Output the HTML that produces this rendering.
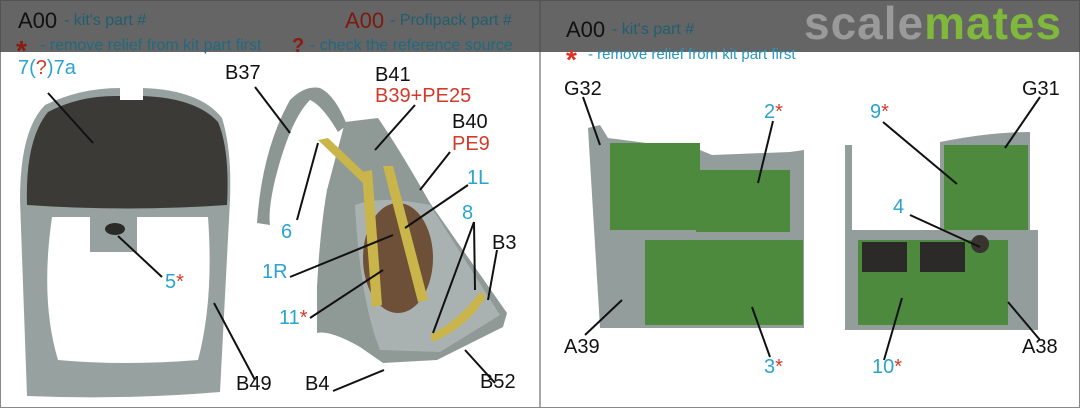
<!DOCTYPE html>
<html><head><meta charset="utf-8"><style>
html,body{margin:0;padding:0;background:#fff;}
#c{position:relative;width:1080px;height:408px;overflow:hidden;font-family:"Liberation Sans",sans-serif;}
.t{position:absolute;white-space:nowrap;line-height:1;}
.k{color:#111;font-size:20px;}
.b{color:#2aa3cf;font-size:20px;}
.r{color:#d23a2a;font-size:20px;}
.s{color:#d23a2a;}
.h{color:#2a95c0;font-size:16px;}
</style></head><body><div id="c">
<svg width="1080" height="408" style="position:absolute;left:0;top:0">
<rect x="0.5" y="0.5" width="1079" height="407" fill="#fff" stroke="#888"/>
<line x1="540" y1="0" x2="540" y2="408" stroke="#888" stroke-width="1.5"/>
<!-- instrument panel frame -->
<path d="M20,200 Q20,130 45,105 Q80,88 120,88 L143,88 Q200,90 222,118 Q232,150 230,200 L220,392 Q125,400 27,396 Z M52,217 L90,217 L90,252 L137,252 L137,217 L208,217 Q214,300 198,360 Q125,366 58,360 Q40,300 52,217 Z" fill="#97a2a0" fill-rule="evenodd"/>
<path d="M27,205 Q25,140 48,112 Q80,95 120,96 L120,100 L143,100 L143,96 Q196,98 218,122 Q230,150 227,205 Q128,212 27,205 Z" fill="#3b3a37"/>
<path d="M120,88 L143,88 L143,100 L120,100 Z" fill="#fff"/>
<ellipse cx="115" cy="229" rx="10" ry="6" fill="#2a2a28"/>
<!-- seat -->
<path d="M257,223 Q262,150 290,100 Q305,85 320,88 Q335,95 347,125 L338,132 Q322,105 310,100 Q290,120 275,180 Q268,210 270,225 Z" fill="#8c9794"/>
<path d="M345,122 L378,118 Q400,150 430,203 L507,313 L503,327 L437,360 L383,363 L360,347 Q330,330 317,333 L317,287 Q320,230 327,190 Z" fill="#8f9a97"/>
<path d="M355,205 Q380,195 430,205 L500,315 L440,352 L380,350 Q360,300 355,205 Z" fill="#a9b2b0"/>
<ellipse cx="398" cy="258" rx="35" ry="55" fill="#6e4f38"/>
<path d="M362,172 L372,170 L382,305 L372,307 Z M383,166 L393,166 L428,300 L418,302 Z" fill="#c9b54a"/>
<path d="M318,140 L328,138 L372,180 L364,184 Z" fill="#c9b54a"/>
<path d="M430,335 Q460,320 480,292 L486,296 Q470,325 433,342 Z" fill="#c9b54a"/>
<!-- right panels -->
<path d="M588,128 L600,125 L608,138 L700,150 L712,155 L790,152 L804,150 L804,328 L600,328 Z" fill="#939d9b"/>
<rect x="610" y="143" width="90" height="87" fill="#4d8a3e"/>
<rect x="696" y="170" width="94" height="62" fill="#4d8a3e"/>
<rect x="645" y="240" width="158" height="85" fill="#4d8a3e"/>
<path d="M845,230 L1038,230 L1038,330 L845,330 Z M845,145 L852,145 L852,230 L845,230 Z M940,142 Q990,132 1030,132 L1030,230 L940,230 Z" fill="#939d9b"/>
<rect x="944" y="145" width="84" height="85" fill="#4d8a3e"/>
<rect x="858" y="240" width="150" height="85" fill="#4d8a3e"/>
<rect x="862" y="242" width="45" height="30" fill="#2b2a28"/>
<rect x="920" y="242" width="45" height="30" fill="#2b2a28"/>
<circle cx="980" cy="244" r="9" fill="#3a3430"/>
<!-- header overlay -->
<rect x="0" y="0" width="1080" height="52" fill="#4a4a4a" opacity="0.85"/>
<g stroke="#111" stroke-width="2" fill="none">
<line x1="48" y1="93" x2="93" y2="143"/>
<line x1="255" y1="87" x2="290" y2="133"/>
<line x1="415" y1="105" x2="375" y2="150"/>
<line x1="450" y1="152" x2="420" y2="190"/>
<line x1="468" y1="185" x2="405" y2="228"/>
<line x1="474" y1="222" x2="433" y2="333"/>
<line x1="474" y1="222" x2="475" y2="290"/>
<line x1="497" y1="250" x2="488" y2="300"/>
<line x1="297" y1="220" x2="318" y2="143"/>
<line x1="290" y1="277" x2="393" y2="235"/>
<line x1="310" y1="318" x2="383" y2="270"/>
<line x1="162" y1="277" x2="118" y2="236"/>
<line x1="255" y1="380" x2="214" y2="303"/>
<line x1="333" y1="391" x2="384" y2="370"/>
<line x1="495" y1="383" x2="465" y2="350"/>
<line x1="583" y1="97" x2="600" y2="145"/>
<line x1="773" y1="121" x2="758" y2="183"/>
<line x1="883" y1="122" x2="957" y2="184"/>
<line x1="1040" y1="97" x2="1005" y2="148"/>
<line x1="910" y1="215" x2="980" y2="247"/>
<line x1="585" y1="335" x2="622" y2="300"/>
<line x1="1040" y1="340" x2="1008" y2="302"/>
<line x1="770" y1="357" x2="752" y2="307"/>
<line x1="884" y1="360" x2="902" y2="298"/>
</g>
</svg>
<div class="t k" style="left:18px;top:10px;font-size:22px">A00</div>
<div class="t h" style="left:64px;top:13px;color:#1f5f70">- kit's part #</div>
<div class="t" style="left:345px;top:10px;font-size:22px;color:#7a1a12">A00</div>
<div class="t h" style="left:390px;top:13px;color:#1f5f70">- Profipack part #</div>
<div class="t" style="left:16px;top:37px;font-size:28px;color:#8a1a12;font-weight:bold">*</div>
<div class="t h" style="left:40px;top:38px;color:#1f6a80">- remove relief from kit part first</div>
<div class="t" style="left:292px;top:36px;font-size:20px;color:#8a1a12;font-weight:bold">?</div>
<div class="t h" style="left:310px;top:38px;color:#1f6a80">- check the reference source</div>
<div class="t k" style="left:566px;top:19px;font-size:22px">A00</div>
<div class="t h" style="left:612px;top:22px;color:#1f5f70">- kit's part #</div>
<div class="t" style="left:566px;top:46px;font-size:28px;color:#e03020;font-weight:bold">*</div>
<div class="t h" style="left:588px;top:47px;font-size:15px">- remove relief from kit part first</div>
<div class="t" style="left:804px;top:0px;font-size:46px;font-weight:bold;color:#9a9a9a;letter-spacing:1px">scale<span style="color:#7fb83a">mates</span></div>
<div class="t b" style="left:18px;top:58px">7(<span class="s">?</span>)7a</div>
<div class="t k" style="left:225px;top:63px">B37</div>
<div class="t k" style="left:375px;top:65px">B41</div>
<div class="t r" style="left:375px;top:86px">B39+PE25</div>
<div class="t k" style="left:452px;top:112px">B40</div>
<div class="t r" style="left:452px;top:134px">PE9</div>
<div class="t b" style="left:467px;top:168px">1L</div>
<div class="t b" style="left:462px;top:203px">8</div>
<div class="t k" style="left:492px;top:233px">B3</div>
<div class="t b" style="left:281px;top:222px">6</div>
<div class="t b" style="left:262px;top:262px">1R</div>
<div class="t b" style="left:165px;top:272px">5<span class="s">*</span></div>
<div class="t b" style="left:279px;top:308px">11<span class="s">*</span></div>
<div class="t k" style="left:236px;top:374px">B49</div>
<div class="t k" style="left:305px;top:374px">B4</div>
<div class="t k" style="left:480px;top:372px">B52</div>
<div class="t k" style="left:564px;top:79px">G32</div>
<div class="t k" style="left:1022px;top:79px">G31</div>
<div class="t b" style="left:764px;top:102px">2<span class="s">*</span></div>
<div class="t b" style="left:870px;top:102px">9<span class="s">*</span></div>
<div class="t b" style="left:893px;top:197px">4</div>
<div class="t k" style="left:564px;top:337px">A39</div>
<div class="t k" style="left:1022px;top:337px">A38</div>
<div class="t b" style="left:764px;top:357px">3<span class="s">*</span></div>
<div class="t b" style="left:872px;top:357px">10<span class="s">*</span></div>
</div></body></html>
